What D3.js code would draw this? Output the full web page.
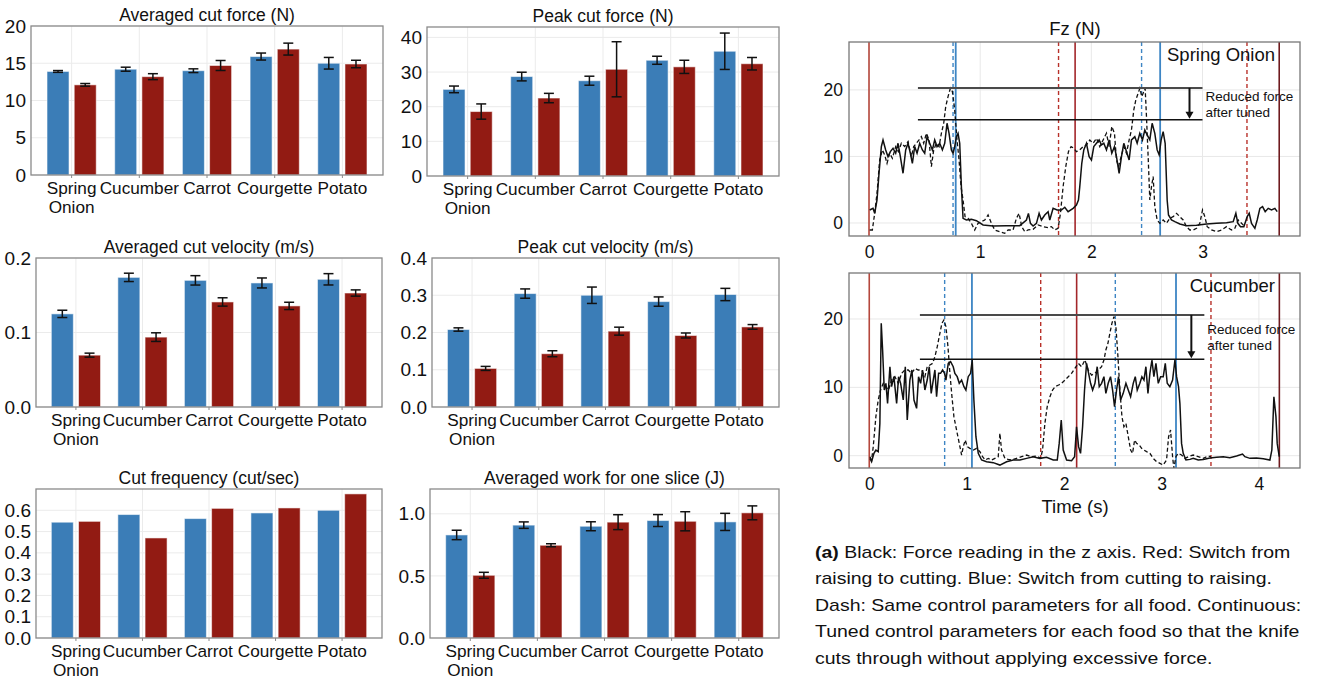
<!DOCTYPE html>
<html>
<head>
<meta charset="utf-8">
<script src="https://cdn.jsdelivr.net/npm/d3@7"></script>
<style>
  body { margin: 0; background: #fff; }
</style>
</head>
<body>
<svg id="fig" width="1329" height="681"></svg>
<script>
// ---- bar chart data (blue = same params, red = tuned) ----
var foods = ["Spring Onion", "Cucumber", "Carrot", "Courgette", "Potato"];

var avgForceBase = [13.9, 14.2, 14.0, 15.9, 15.0];
var avgForceBaseErr = [0.12, 0.27, 0.25, 0.47, 0.78];
var avgForceTuned = [12.1, 13.2, 14.7, 16.9, 14.9];
var avgForceTunedErr = [0.18, 0.4, 0.67, 0.8, 0.5];

var peakForceBase = [25.0, 28.7, 27.5, 33.4, 36.0];
var peakForceBaseErr = [0.96, 1.25, 1.3, 1.16, 5.25];
var peakForceTuned = [18.6, 22.5, 30.8, 31.5, 32.4];
var peakForceTunedErr = [2.2, 1.35, 7.95, 1.9, 1.8];

var avgVelBase = [0.125, 0.174, 0.170, 0.1665, 0.1714];
var avgVelBaseErr = [0.0049, 0.0056, 0.0063, 0.0067, 0.0076];
var avgVelTuned = [0.0696, 0.0938, 0.141, 0.1357, 0.153];
var avgVelTunedErr = [0.0027, 0.0058, 0.0056, 0.0049, 0.0042];

var peakVelBase = [0.208, 0.3045, 0.300, 0.283, 0.302];
var peakVelBaseErr = [0.0045, 0.0125, 0.022, 0.0125, 0.0165];
var peakVelTuned = [0.1036, 0.143, 0.2036, 0.192, 0.215];
var peakVelTunedErr = [0.0054, 0.008, 0.0107, 0.0067, 0.0063];

var cutFreqBase = [0.544, 0.580, 0.561, 0.5875, 0.600];
var cutFreqTuned = [0.548, 0.470, 0.609, 0.611, 0.677];

var workBase = [0.83, 0.909, 0.90, 0.946, 0.935];
var workBaseErr = [0.038, 0.026, 0.036, 0.048, 0.069];
var workTuned = [0.505, 0.747, 0.933, 0.94, 1.008];
var workTunedErr = [0.024, 0.012, 0.06, 0.077, 0.056];

// ---- force traces [time s, Fz N] ----
var onionTuned = [[0.006,1.95],[0.036,2.2],[0.051,1.45],[0.072,3.46],[0.09,7.47],[0.111,11.48],[0.126,12.48],[0.15,10.98],[0.171,9.97],[0.192,10.73],[0.216,11.23],[0.24,10.48],[0.261,11.98],[0.282,9.97],[0.306,7.47],[0.33,10.98],[0.351,11.98],[0.372,10.48],[0.39,8.97],[0.411,11.48],[0.432,10.48],[0.456,11.98],[0.48,10.98],[0.501,10.48],[0.522,12.98],[0.546,11.98],[0.57,10.98],[0.591,12.48],[0.612,11.48],[0.636,11.98],[0.66,10.98],[0.681,11.98],[0.702,14.99],[0.72,13.48],[0.741,10.98],[0.756,10.48],[0.771,11.48],[0.786,12.98],[0.801,13.48],[0.816,11.98],[0.831,5.46],[0.846,0.7],[0.876,0.45],[0.921,0.55],[0.966,0.35],[1.026,-0.3],[1.116,-0.45],[1.236,-0.4],[1.356,-0.4],[1.416,0.45],[1.434,1.45],[1.452,-0.05],[1.476,-0.45],[1.506,-0.05],[1.53,1.45],[1.551,0.45],[1.581,1.2],[1.611,1.7],[1.626,0.45],[1.656,2.2],[1.692,1.95],[1.731,1.95],[1.761,2.36],[1.791,1.7],[1.836,2.2],[1.866,2.71],[1.884,3.46],[1.896,5.46],[1.914,8.97],[1.932,10.98],[1.956,11.98],[1.98,9.97],[2.001,9.47],[2.022,11.48],[2.046,11.98],[2.07,12.48],[2.091,11.73],[2.112,11.98],[2.136,10.98],[2.16,12.48],[2.184,10.48],[2.208,11.48],[2.226,9.97],[2.25,7.47],[2.271,9.97],[2.292,11.98],[2.316,10.73],[2.34,9.47],[2.361,12.48],[2.391,12.98],[2.412,11.98],[2.436,13.48],[2.46,12.48],[2.481,13.98],[2.502,13.23],[2.526,12.48],[2.547,14.99],[2.571,13.48],[2.592,10.98],[2.61,10.23],[2.628,12.48],[2.646,13.73],[2.664,11.98],[2.682,3.46],[2.694,1.2],[2.721,0.45],[2.751,0.2],[2.796,-0.15],[2.856,-0.4],[2.946,-0.35],[3.036,-0.15],[3.126,-0.05],[3.216,0.05],[3.276,0.2],[3.3,1.45],[3.318,-0.05],[3.342,-0.55],[3.372,-0.55],[3.402,0.95],[3.42,1.45],[3.441,-0.05],[3.471,-0.8],[3.492,0.45],[3.516,2.2],[3.54,2.46],[3.564,1.7],[3.591,2.2],[3.621,1.95],[3.651,2.2],[3.672,1.7]];

var onionSame = [[0.006,-1.05],[0.03,-1.05],[0.051,1.45],[0.072,4.46],[0.096,9.47],[0.12,10.98],[0.141,10.23],[0.162,8.97],[0.186,10.48],[0.21,9.72],[0.24,11.48],[0.264,10.73],[0.291,11.98],[0.321,11.48],[0.351,12.23],[0.381,9.97],[0.402,11.48],[0.426,11.98],[0.45,12.48],[0.471,12.98],[0.492,11.98],[0.516,13.48],[0.54,12.48],[0.561,8.47],[0.582,10.98],[0.606,11.98],[0.63,11.48],[0.651,13.48],[0.672,14.99],[0.69,17.49],[0.711,19.0],[0.732,20.25],[0.75,19.75],[0.771,16.99],[0.792,12.48],[0.81,9.47],[0.828,5.46],[0.846,3.46],[0.864,0.95],[0.891,0.7],[0.921,-0.05],[0.951,-1.05],[0.981,-0.05],[1.011,0.2],[1.041,0.45],[1.071,1.2],[1.101,-0.05],[1.131,-1.05],[1.176,-1.3],[1.221,-1.55],[1.251,-1.05],[1.296,-1.05],[1.326,0.7],[1.35,1.45],[1.374,-0.55],[1.401,-1.3],[1.431,-1.05],[1.476,-0.95],[1.521,-0.3],[1.566,-0.55],[1.611,-0.7],[1.641,-0.55],[1.671,-1.05],[1.701,-0.8],[1.722,1.45],[1.746,5.46],[1.77,8.47],[1.794,10.73],[1.818,11.48],[1.842,11.23],[1.866,10.73],[1.896,10.98],[1.926,11.48],[1.956,11.73],[1.986,12.48],[2.016,11.98],[2.046,12.73],[2.076,11.48],[2.106,12.48],[2.136,13.48],[2.16,11.48],[2.184,14.49],[2.208,13.48],[2.226,9.47],[2.244,8.47],[2.268,9.97],[2.292,11.48],[2.316,10.48],[2.34,12.48],[2.361,13.98],[2.382,16.99],[2.4,18.5],[2.421,19.5],[2.436,20.25],[2.454,19.0],[2.472,19.75],[2.484,20.25],[2.496,15.99],[2.511,9.97],[2.526,3.46],[2.541,5.46],[2.556,6.97],[2.571,2.46],[2.592,0.45],[2.616,-0.05],[2.646,0.45],[2.676,-0.05],[2.706,0.7],[2.736,0.95],[2.766,1.45],[2.796,0.95],[2.826,0.45],[2.856,-0.55],[2.886,-1.05],[2.916,-1.05],[2.946,-0.8],[2.976,-0.05],[3.0,1.95],[3.021,0.95],[3.042,-0.55],[3.081,-1.05],[3.126,-1.3],[3.171,-1.05],[3.216,-0.55],[3.261,-1.05],[3.291,-0.8],[3.321,0.45],[3.351,-0.05],[3.381,-0.55]];

var cucumberTuned = [[0.007,-0.39],[0.024,-0.88],[0.048,0.34],[0.068,0.83],[0.092,0.59],[0.109,4.73],[0.123,19.37],[0.137,15.46],[0.154,9.61],[0.171,10.59],[0.188,7.66],[0.212,13.02],[0.229,10.1],[0.253,11.56],[0.281,7.66],[0.301,11.56],[0.322,10.59],[0.349,8.15],[0.37,13.02],[0.39,5.22],[0.417,11.07],[0.438,12.54],[0.459,8.15],[0.486,6.93],[0.506,11.56],[0.527,10.59],[0.547,12.54],[0.571,9.61],[0.595,11.07],[0.616,13.02],[0.636,9.12],[0.657,11.07],[0.674,12.54],[0.691,8.63],[0.712,12.05],[0.732,12.05],[0.753,12.54],[0.773,12.05],[0.787,11.07],[0.811,13.51],[0.835,13.76],[0.862,13.02],[0.879,12.05],[0.903,11.56],[0.924,10.59],[0.948,11.07],[0.972,10.1],[0.992,9.61],[1.016,11.56],[1.04,12.05],[1.057,14.0],[1.074,8.15],[1.095,2.78],[1.119,0.34],[1.153,-0.63],[1.204,-0.88],[1.273,-1.02],[1.341,-1.37],[1.41,-0.88],[1.478,-0.63],[1.547,-0.63],[1.615,-0.39],[1.683,-0.15],[1.752,-0.39],[1.82,-0.24],[1.889,-0.63],[1.93,-0.63],[1.95,1.8],[1.971,5.22],[1.991,0.83],[2.026,-0.63],[2.077,-0.73],[2.108,-0.15],[2.128,4.24],[2.149,1.32],[2.169,0.34],[2.19,4.24],[2.21,9.61],[2.231,13.51],[2.252,12.05],[2.272,10.59],[2.293,9.61],[2.317,10.59],[2.34,13.02],[2.361,10.1],[2.385,10.59],[2.409,11.56],[2.429,9.12],[2.453,10.59],[2.477,11.56],[2.498,9.61],[2.518,7.17],[2.539,9.61],[2.559,11.56],[2.58,8.15],[2.607,9.12],[2.635,10.59],[2.659,9.61],[2.683,8.63],[2.71,10.59],[2.731,11.56],[2.751,9.61],[2.778,10.59],[2.799,11.56],[2.82,11.07],[2.84,13.02],[2.861,9.12],[2.881,12.05],[2.902,14.0],[2.922,11.56],[2.943,13.51],[2.967,10.59],[2.991,11.56],[3.018,11.56],[3.039,13.51],[3.059,10.59],[3.086,10.1],[3.114,11.07],[3.138,14.0],[3.155,11.56],[3.175,10.1],[3.189,7.66],[3.206,1.8],[3.223,0.34],[3.251,-0.63],[3.292,-0.54],[3.326,-0.39],[3.377,-0.63],[3.429,-0.54],[3.497,-0.34],[3.565,-0.24],[3.634,-0.15],[3.702,-0.29],[3.771,-0.05],[3.832,0.24],[3.856,-0.15],[3.908,-0.39],[3.976,-0.34],[4.045,-0.44],[4.113,-0.63],[4.133,0.83],[4.154,8.63],[4.175,5.71],[4.188,1.8],[4.209,-0.15]];

var cucumberSame = [[0.007,-0.15],[0.024,-0.63],[0.041,1.32],[0.068,5.71],[0.092,8.15],[0.116,9.61],[0.144,10.59],[0.171,10.1],[0.198,9.61],[0.229,11.07],[0.263,11.56],[0.298,10.59],[0.332,12.05],[0.366,12.54],[0.4,12.54],[0.435,12.05],[0.469,12.78],[0.503,12.54],[0.537,12.54],[0.571,11.56],[0.595,13.02],[0.623,13.27],[0.65,13.51],[0.674,14.49],[0.698,15.95],[0.725,17.9],[0.746,19.37],[0.766,19.85],[0.787,18.88],[0.808,15.95],[0.828,12.05],[0.849,8.63],[0.869,5.71],[0.896,3.76],[0.924,1.8],[0.948,0.1],[0.965,1.32],[0.985,2.29],[1.006,1.32],[1.033,1.07],[1.068,0.83],[1.102,1.07],[1.136,0.59],[1.163,-0.15],[1.191,-0.63],[1.222,-0.39],[1.256,-0.63],[1.29,-0.39],[1.324,-0.15],[1.341,3.27],[1.358,0.83],[1.393,-0.39],[1.427,-0.54],[1.461,-0.63],[1.512,-0.39],[1.564,-0.15],[1.615,0.1],[1.666,-0.15],[1.718,-0.05],[1.759,-0.39],[1.779,0.83],[1.803,4.73],[1.827,7.17],[1.855,8.63],[1.882,9.61],[1.909,10.1],[1.944,10.34],[1.974,10.59],[2.009,11.07],[2.043,11.56],[2.077,12.05],[2.111,12.78],[2.146,13.51],[2.18,13.02],[2.214,14.0],[2.248,12.54],[2.282,11.8],[2.316,12.05],[2.351,12.54],[2.385,13.02],[2.409,14.0],[2.429,15.46],[2.45,16.44],[2.47,17.9],[2.491,19.37],[2.512,20.34],[2.532,18.88],[2.553,14.49],[2.573,9.61],[2.594,5.71],[2.614,4.24],[2.635,4.73],[2.659,2.78],[2.683,0.83],[2.703,0.34],[2.724,2.29],[2.744,1.8],[2.772,1.56],[2.796,1.07],[2.82,0.83],[2.847,0.59],[2.881,0.34],[2.915,-0.39],[2.95,-0.88],[2.984,-1.12],[3.018,-1.37],[3.052,-0.63],[3.073,2.78],[3.093,3.76],[3.114,-0.15],[3.127,-1.85],[3.148,-0.15],[3.172,0.34],[3.206,0.1],[3.24,-0.39],[3.275,-0.15],[3.326,0.1],[3.377,-0.15],[3.429,-0.39],[3.48,-0.05],[3.507,-0.15]];

// switch times (s)
var onionRedSolid = [0, 1.854, 3.69];
var onionRedDash = [1.705, 3.40];
var onionBlueSolid = [0.78, 2.619];
var onionBlueDash = [0.756, 2.452];
var cucumberRedSolid = [0, 2.129, 4.21];
var cucumberRedDash = [1.76, 3.508];
var cucumberBlueSolid = [1.054, 3.149];
var cucumberBlueDash = [0.774, 2.526];

// peak levels [same, tuned] and span of the guide lines
var onionPeaks = [20.3, 15.5];
var onionSpan = [0.44, 3.0];
var cucumberPeaks = [20.6, 14.1];
var cucumberSpan = [0.52, 3.44];

var captionLines = [
  ["(a)", " Black: Force reading in the z axis. Red: Switch from"],
  ["", "raising to cutting. Blue: Switch from cutting to raising."],
  ["", "Dash: Same control parameters for all food. Continuous:"],
  ["", "Tuned control parameters for each food so that the knife"],
  ["", "cuts through without applying excessive force."]
];

var BLUE = "#3b7db7", RED = "#921b13";
var FONT = "'Liberation Sans', Arial, Helvetica, sans-serif";
var svg = d3.select("#fig");

function barPanel(o) {
  var g = svg.append("g");
  var x = d3.scaleBand().domain(foods).range([o.x0, o.x1]).paddingInner(0).paddingOuter(0.1);
  var y = d3.scaleLinear().domain(o.dom).range([o.y1, o.y0]);
  var cx = function(d) { return x(d) + x.bandwidth() / 2; };
  var bw = 22, off = 13.6;

  g.selectAll(".gh").data(o.ticks).enter().append("line")
    .attr("x1", o.x0).attr("x2", o.x1)
    .attr("y1", function(d) { return y(d); }).attr("y2", function(d) { return y(d); })
    .attr("stroke", "#ebebeb").attr("stroke-width", 1);
  g.selectAll(".gv").data(foods).enter().append("line")
    .attr("x1", cx).attr("x2", cx).attr("y1", o.y0).attr("y2", o.y1)
    .attr("stroke", "#ebebeb").attr("stroke-width", 1);

  var series = [
    { vals: o.a, err: o.ae, color: BLUE, dx: -off },
    { vals: o.b, err: o.be, color: RED, dx: off }
  ];
  series.forEach(function(s) {
    g.selectAll(null).data(foods).enter().append("rect")
      .attr("x", function(d) { return cx(d) + s.dx - bw / 2; })
      .attr("width", bw)
      .attr("y", function(d, i) { return y(s.vals[i]); })
      .attr("height", function(d, i) { return y(0) - y(s.vals[i]); })
      .attr("fill", s.color)
      .attr("stroke", "#fff").attr("stroke-opacity", 0.55).attr("stroke-width", 1);
  });
  series.forEach(function(s) {
    if (!s.err) return;
    var eb = g.selectAll(null).data(foods).enter().append("g")
      .attr("stroke", "#111").attr("stroke-width", 1.5);
    eb.append("line")
      .attr("x1", function(d) { return cx(d) + s.dx; }).attr("x2", function(d) { return cx(d) + s.dx; })
      .attr("y1", function(d, i) { return y(s.vals[i] - s.err[i]); })
      .attr("y2", function(d, i) { return y(s.vals[i] + s.err[i]); });
    [-1, 1].forEach(function(sg) {
      eb.append("line")
        .attr("x1", function(d) { return cx(d) + s.dx - 5; }).attr("x2", function(d) { return cx(d) + s.dx + 5; })
        .attr("y1", function(d, i) { return y(s.vals[i] + sg * s.err[i]); })
        .attr("y2", function(d, i) { return y(s.vals[i] + sg * s.err[i]); });
    });
  });

  g.append("rect").attr("x", o.x0).attr("y", o.y0)
    .attr("width", o.x1 - o.x0).attr("height", o.y1 - o.y0)
    .attr("fill", "none").attr("stroke", "#8a8a8a").attr("stroke-width", 1.3);

  var ya = g.append("g").attr("transform", "translate(" + o.x0 + ",0)")
    .call(d3.axisLeft(y).tickValues(o.ticks).tickFormat(d3.format(o.fmt)).tickSize(0).tickPadding(5));
  ya.select(".domain").remove();
  ya.selectAll("text").attr("font-family", FONT).attr("font-size", 19).attr("fill", "#111");

  var xa = g.append("g").attr("transform", "translate(0," + o.y1 + ")")
    .call(d3.axisBottom(x).tickSize(3).tickPadding(4));
  xa.select(".domain").remove();
  xa.selectAll("line").attr("stroke", "#8a8a8a");
  xa.selectAll("text").attr("font-family", FONT).attr("font-size", 17.2).attr("fill", "#111")
    .each(function(d) {
      var t = d3.select(this).text(null);
      d.split(" ").forEach(function(w, k) {
        t.append("tspan").attr("x", 0).attr("dy", k === 0 ? "0.71em" : "1.12em").text(w);
      });
    });

  g.append("text").attr("x", (o.x0 + o.x1) / 2).attr("y", o.y0 - 5)
    .attr("text-anchor", "middle").attr("font-family", FONT).attr("font-size", 17.5)
    .attr("fill", "#111").text(o.title);
}

barPanel({ x0: 31, x1: 383, y0: 26, y1: 175, dom: [0, 20], ticks: [0, 5, 10, 15, 20], fmt: "d",
  a: avgForceBase, ae: avgForceBaseErr, b: avgForceTuned, be: avgForceTunedErr, title: "Averaged cut force (N)" });
barPanel({ x0: 427, x1: 779, y0: 27, y1: 176, dom: [0, 43], ticks: [0, 10, 20, 30, 40], fmt: "d",
  a: peakForceBase, ae: peakForceBaseErr, b: peakForceTuned, be: peakForceTunedErr, title: "Peak cut force (N)" });
barPanel({ x0: 36, x1: 382, y0: 258, y1: 407, dom: [0, 0.2], ticks: [0, 0.1, 0.2], fmt: ".1f",
  a: avgVelBase, ae: avgVelBaseErr, b: avgVelTuned, be: avgVelTunedErr, title: "Averaged cut velocity (m/s)" });
barPanel({ x0: 432, x1: 779, y0: 258, y1: 407, dom: [0, 0.4], ticks: [0, 0.1, 0.2, 0.3, 0.4], fmt: ".1f",
  a: peakVelBase, ae: peakVelBaseErr, b: peakVelTuned, be: peakVelTunedErr, title: "Peak cut velocity (m/s)" });
barPanel({ x0: 36, x1: 382, y0: 489, y1: 638, dom: [0, 0.7], ticks: [0, 0.1, 0.2, 0.3, 0.4, 0.5, 0.6], fmt: ".1f",
  a: cutFreqBase, b: cutFreqTuned, title: "Cut frequency (cut/sec)" });
barPanel({ x0: 430, x1: 779, y0: 489, y1: 638, dom: [0, 1.2], ticks: [0, 0.5, 1.0], fmt: ".1f",
  a: workBase, ae: workBaseErr, b: workTuned, be: workTunedErr, title: "Averaged work for one slice (J)" });

// ---- force panels ----
function forcePanel(o) {
  var g = svg.append("g");
  var x0 = 849, x1 = 1300;
  var x = d3.scaleLinear().domain(o.tdom).range([x0, x1]);
  var y = d3.scaleLinear().domain(o.fdom).range([o.y1, o.y0]);
  var id = "clip" + o.y0;
  svg.append("clipPath").attr("id", id).append("rect")
    .attr("x", x0).attr("y", o.y0).attr("width", x1 - x0).attr("height", o.y1 - o.y0);

  g.selectAll(".gh").data([0, 10, 20]).enter().append("line")
    .attr("x1", x0).attr("x2", x1)
    .attr("y1", function(d) { return y(d); }).attr("y2", function(d) { return y(d); })
    .attr("stroke", "#e8e8e8");
  g.selectAll(".gv").data(o.xticks).enter().append("line")
    .attr("x1", function(d) { return x(d); }).attr("x2", function(d) { return x(d); })
    .attr("y1", o.y0).attr("y2", o.y1).attr("stroke", "#e8e8e8");

  var c = g.append("g").attr("clip-path", "url(#" + id + ")");
  var redCols = ["#b5473c", "#a3262a", "#6e1a1e"];
  function vlines(data, color, dash, w) {
    c.selectAll(null).data(data).enter().append("line")
      .attr("x1", function(d) { return x(d); }).attr("x2", function(d) { return x(d); })
      .attr("y1", o.y0).attr("y2", o.y1)
      .attr("stroke", typeof color === "function" ? color : function() { return color; })
      .attr("stroke-width", w).attr("stroke-dasharray", dash);
  }
  vlines(o.redSolid, function(d, i) { return redCols[i]; }, null, 1.6);
  vlines(o.redDash, "#b8312a", "4,3", 1.4);
  vlines(o.blueSolid, "#3d85c4", null, 1.8);
  vlines(o.blueDash, "#3d85c4", "4,3", 1.4);

  var line = d3.line().x(function(d) { return x(d[0]); }).y(function(d) { return y(d[1]); });
  c.append("path").datum(o.same).attr("d", line).attr("fill", "none")
    .attr("stroke", "#111").attr("stroke-width", 1.3).attr("stroke-dasharray", "4,2.5");
  c.append("path").datum(o.tuned).attr("d", line).attr("fill", "none")
    .attr("stroke", "#111").attr("stroke-width", 1.5);

  // peak guide lines + arrow
  g.append("line").attr("x1", x(o.span[0])).attr("x2", x(o.span[1]))
    .attr("y1", y(o.peaks[0])).attr("y2", y(o.peaks[0]))
    .attr("stroke", "#4a4a4a").attr("stroke-width", 2);
  g.append("line").attr("x1", x(o.span[0])).attr("x2", x(o.span[1]))
    .attr("y1", y(o.peaks[1])).attr("y2", y(o.peaks[1]))
    .attr("stroke", "#111").attr("stroke-width", 1.5);
  var ax = x(o.span[1]) - 13;
  g.append("line").attr("x1", ax).attr("x2", ax)
    .attr("y1", y(o.peaks[0])).attr("y2", y(o.peaks[1]) - 7)
    .attr("stroke", "#111").attr("stroke-width", 2);
  g.append("path")
    .attr("d", "M" + (ax - 4) + "," + (y(o.peaks[1]) - 8) + "L" + (ax + 4) + "," + (y(o.peaks[1]) - 8) +
      "L" + ax + "," + (y(o.peaks[1]) - 1) + "Z")
    .attr("fill", "#111");
  var ty = (y(o.peaks[0]) + y(o.peaks[1])) / 2;
  g.append("text").attr("x", x(o.span[1]) + 3).attr("y", ty - 3)
    .attr("font-family", FONT).attr("font-size", 13.5).attr("fill", "#111").text("Reduced force");
  g.append("text").attr("x", x(o.span[1]) + 3).attr("y", ty + 13)
    .attr("font-family", FONT).attr("font-size", 13.5).attr("fill", "#111").text("after tuned");

  g.append("rect").attr("x", x0).attr("y", o.y0)
    .attr("width", x1 - x0).attr("height", o.y1 - o.y0)
    .attr("fill", "none").attr("stroke", "#777").attr("stroke-width", 1.3);

  var ya = g.append("g").attr("transform", "translate(" + x0 + ",0)")
    .call(d3.axisLeft(y).tickValues([0, 10, 20]).tickSize(0).tickPadding(6));
  ya.select(".domain").remove();
  ya.selectAll("text").attr("font-family", FONT).attr("font-size", 17.5).attr("fill", "#111");
  var xa = g.append("g").attr("transform", "translate(0," + o.y1 + ")")
    .call(d3.axisBottom(x).tickValues(o.xticks).tickFormat(d3.format("d")).tickSize(0).tickPadding(10));
  xa.select(".domain").remove();
  xa.selectAll("text").attr("font-family", FONT).attr("font-size", 17.5).attr("fill", "#111");

  g.append("text").attr("x", x1 - 25).attr("y", o.y0 + 19).attr("text-anchor", "end")
    .attr("font-family", FONT).attr("font-size", 18.5).attr("fill", "#111").text(o.label);
}

forcePanel({ y0: 42, y1: 236, tdom: [-0.18, 3.877], fdom: [-1.955, 27.2], xticks: [0, 1, 2, 3],
  same: onionSame, tuned: onionTuned, redSolid: onionRedSolid, redDash: onionRedDash,
  blueSolid: onionBlueSolid, blueDash: onionBlueDash, peaks: onionPeaks, span: onionSpan, label: "Spring Onion" });
forcePanel({ y0: 273, y1: 468, tdom: [-0.208, 4.422], fdom: [-1.8, 26.73], xticks: [0, 1, 2, 3, 4],
  same: cucumberSame, tuned: cucumberTuned, redSolid: cucumberRedSolid, redDash: cucumberRedDash,
  blueSolid: cucumberBlueSolid, blueDash: cucumberBlueDash, peaks: cucumberPeaks, span: cucumberSpan, label: "Cucumber" });

svg.append("text").attr("x", 1075).attr("y", 35).attr("text-anchor", "middle")
  .attr("font-family", FONT).attr("font-size", 18.5).attr("fill", "#111").text("Fz (N)");
svg.append("text").attr("x", 1075).attr("y", 513).attr("text-anchor", "middle")
  .attr("font-family", FONT).attr("font-size", 18.5).attr("fill", "#111").text("Time (s)");

// caption (the source figure's caption is set wider than its height suggests)
var cap = svg.append("text").attr("font-family", FONT).attr("font-size", 16.8).attr("fill", "#111")
  .attr("transform", "translate(815,0) scale(1.16,1)");
captionLines.forEach(function(l, i) {
  var row = cap.append("tspan").attr("x", 0).attr("y", 558 + i * 26.5);
  if (l[0]) row.append("tspan").attr("font-weight", "bold").text(l[0]);
  row.append("tspan").text(l[1]);
});
</script>
</body>
</html>
